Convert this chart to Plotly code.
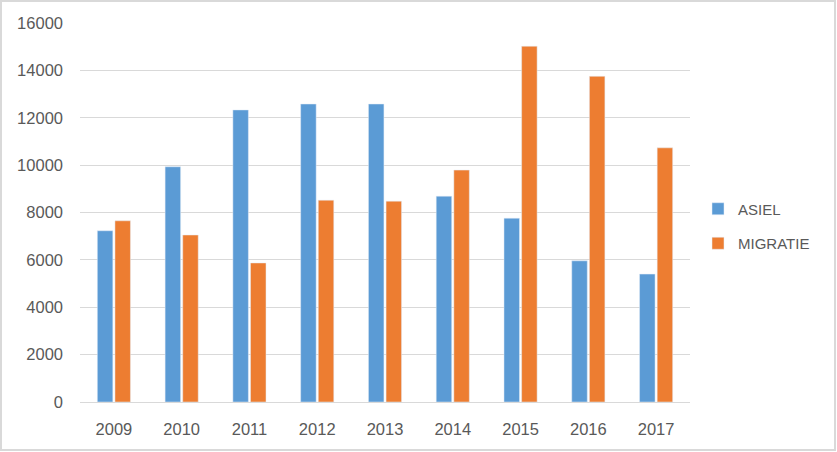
import plotly.graph_objects as go

years = ["2009", "2010", "2011", "2012", "2013", "2014", "2015", "2016", "2017"]
asiel = [7230, 9930, 12330, 12580, 12580, 8690, 7760, 5960, 5400]
migratie = [7650, 7050, 5870, 8520, 8480, 9790, 15020, 13750, 10730]
y_ticks = [0, 2000, 4000, 6000, 8000, 10000, 12000, 14000, 16000]
y_tick_labels = [str(v) for v in y_ticks]

W, H = 837, 452
L, R, T, B = 80, 147, 23, 50
pw, ph = W - L - R, H - T - B

fig = go.Figure()
fig.add_trace(go.Bar(name="ASIEL", x=years, y=asiel, marker_color="#5B9BD5",
                     legendgroup="a"))
fig.add_trace(go.Bar(name="MIGRATIE", x=years, y=migratie, marker_color="#ED7D31",
                     legendgroup="b"))

font = "Liberation Sans, Arial, sans-serif"
fig.update_layout(
    width=W, height=H,
    margin=dict(l=L, r=R, t=T, b=B),
    paper_bgcolor="white", plot_bgcolor="white",
    barmode="group", bargap=0.48, bargroupgap=0.12,
    font=dict(family=font, color="#595959", size=16),
    legend=dict(x=(698 - L) / pw, xanchor="left", y=(H - B - 226) / ph, yanchor="middle",
                font=dict(size=15, color="#595959"), tracegroupgap=12,
                bgcolor="rgba(0,0,0,0)"),
    shapes=[dict(type="rect", xref="paper", yref="paper",
                 x0=(1 - L) / pw, x1=(W - 2 - L) / pw,
                 y0=-(H - 2 - T - ph) / ph, y1=1 + (T - 1) / ph,
                 line=dict(color="#D9D9D9", width=2), fillcolor="rgba(0,0,0,0)",
                 layer="below")],
)
fig.update_xaxes(showgrid=False, showline=True, linecolor="#D9D9D9", linewidth=1,
                 ticks="", tickfont=dict(size=16.5, color="#595959"),
                 ticklabelstandoff=12, fixedrange=True)
fig.update_yaxes(range=[0, 16000], tickvals=y_ticks, ticktext=y_tick_labels,
                 showgrid=True, gridcolor="#D9D9D9",
                 gridwidth=1, zeroline=False, showline=False, ticks="",
                 tickfont=dict(size=16.5, color="#595959"), ticklabelstandoff=16,
                 fixedrange=True)

fig.write_html("out.html")
